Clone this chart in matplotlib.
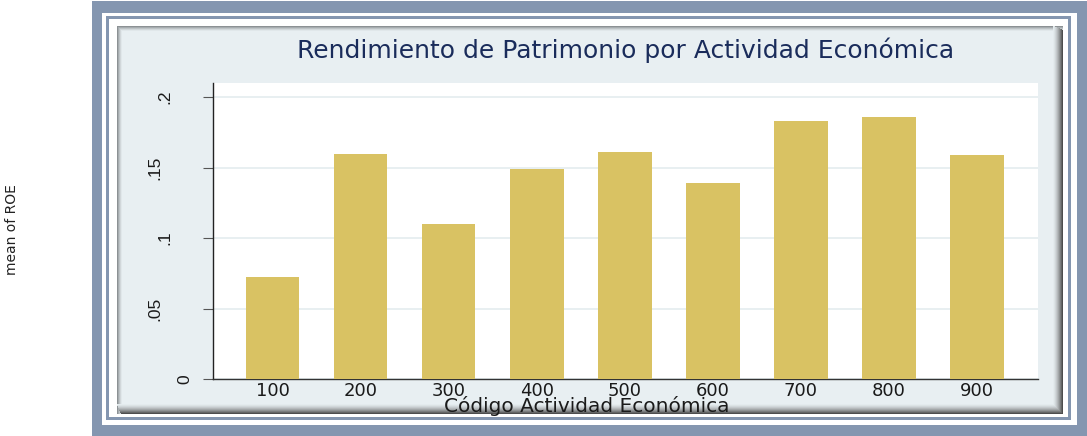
import matplotlib
matplotlib.use("Agg")
import matplotlib.pyplot as plt
from matplotlib.patches import Rectangle
import matplotlib.transforms as mtransforms
import numpy as np

categories = ["100", "200", "300", "400", "500", "600", "700", "800", "900"]
roe_mean = [0.0723, 0.1596, 0.110, 0.149, 0.161, 0.139, 0.183, 0.186, 0.159]
yticks = [0, 0.05, 0.1, 0.15, 0.2]
ytick_labels = ["0", ".05", ".1", ".15", ".2"]

W, H = 1087, 436
fig = plt.figure(figsize=(W / 100, H / 100), dpi=100)
fig.patch.set_facecolor("white")

# background frame axes in pixel coordinates
bg = fig.add_axes([0, 0, 1, 1])
bg.set_xlim(0, W)
bg.set_ylim(H, 0)
bg.axis("off")

blue = "#8496b0"
panel = np.array([0xe8, 0xef, 0xf2]) / 255.0

def rect(x0, y0, x1, y1, color, z=0):
    bg.add_patch(Rectangle((x0, y0), x1 - x0, y1 - y0, facecolor=color,
                           edgecolor="none", zorder=z))

rect(92, 1, W + 5, H + 5, blue, 0)
rect(102, 13, 1077, 425, "white", 1)
rect(106, 16, 1071, 420, blue, 2)
rect(109, 19, 1068, 417, "white", 3)

# panel with soft inner shadow
px0, py0, px1, py1 = 117, 26, 1063, 414
rect(px0, py0, px1, py1, panel, 4)
# top and left: thin gray bevel
light = np.array([0.55, 0.57, 0.58])
m = 5
for i in range(m):
    t = (1 - i / m) ** 1.5
    c = panel * (1 - t) + light * t
    rect(px0 + i, py0 + i, px1, py0 + i + 1, c, 5 + i * 0.01)
    rect(px0 + i, py0 + i, px0 + i + 1, py1, c, 5 + i * 0.01)
# right and bottom: wider dark shadow
dark = np.array([0.30, 0.30, 0.30])
n = 10
for i in range(n):
    t = ((i + 1) / n) ** 1.6
    c = panel * (1 - t) + dark * t
    rect(px1 - n + i, py0 + i * 0.4, px1 - n + i + 1, py1, c, 6 + i * 0.01)
    rect(px0 + i * 0.4, py1 - n + i, px1, py1 - n + i + 1, c, 6 + i * 0.01)

# plot axes
L, R, T, B = 213, 1038, 83, 379
ax = fig.add_axes([L / W, 1 - B / H, (R - L) / W, (B - T) / H])
ax.set_facecolor("white")
x = np.arange(len(categories))
ax.bar(x, roe_mean, width=0.61, color="#d9c263", zorder=3)
ax.set_xlim(-0.676, 8.693)
ax.set_ylim(0, 0.2 * (B - T) / (379 - 97))
ax.set_yticks(yticks)
ax.set_yticklabels(ytick_labels, rotation=90, ha="center", va="center", fontsize=12.5,
                   family="Liberation Sans", color="#1a1a1a")
ax.tick_params(axis="y", length=7.2, width=0.8, color="#555555", pad=27.4)
# per-label horizontal offsets (in points) as they appear in the reference
offsets_pt = [14.4, -7.2, 0.0, -7.2, 0.0]
for lab, off in zip(ax.get_yticklabels(), offsets_pt):
    lab.set_transform(lab.get_transform() +
                      mtransforms.ScaledTranslation(off / 72.0, 0, fig.dpi_scale_trans))
ax.set_xticks(x)
ax.set_xticklabels(categories, fontsize=13, family="DejaVu Sans", color="#1a1a1a")
ax.tick_params(axis="x", length=0, pad=2.5)
ax.grid(axis="y", color="#e4ecef", linewidth=1.2, zorder=0)
for s in ["top", "right"]:
    ax.spines[s].set_visible(False)
ax.spines["left"].set_color("#222222")
ax.spines["bottom"].set_color("#333333")
ax.spines["left"].set_linewidth(1.0)
ax.spines["bottom"].set_linewidth(1.0)

fig.text(626 / W, 1 - 50 / H, "Rendimiento de Patrimonio por Actividad Económica",
         ha="center", va="center", fontsize=18, color="#1a2c5b", family="DejaVu Sans")
fig.text(587 / W, 1 - 406 / H, "Código Actividad Económica",
         ha="center", va="center", fontsize=14.5, color="#1a1a1a", family="DejaVu Sans")
fig.text(12 / W, 1 - 230 / H, "mean of ROE", rotation=90, ha="center", va="center",
         fontsize=10, color="#222222", family="Liberation Sans Narrow")

fig.savefig("out.png", dpi=100)
